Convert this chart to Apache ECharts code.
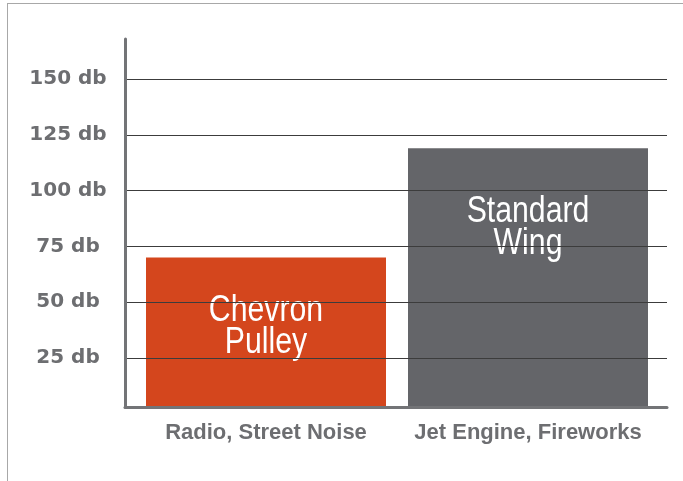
<!DOCTYPE html>
<html>
<head>
<meta charset="utf-8">
<script src="https://cdn.jsdelivr.net/npm/echarts@6/dist/echarts.min.js"></script>
<style>
  html, body { margin: 0; padding: 0; background: #ffffff; }
  #wrap { position: relative; width: 683px; height: 481px; overflow: hidden; }
  #frame { position: absolute; left: 7px; top: 3px; width: 700px; height: 500px;
           border-left: 1.5px solid #a8a8a8; border-top: 1.5px solid #a8a8a8; }
  #main { position: absolute; left: 0; top: 0; width: 683px; height: 481px; }
</style>
</head>
<body>
<div id="wrap">
  <div id="frame"></div>
  <div id="main"></div>
</div>
<script>
// ---- data ----
var categories = ['Radio, Street Noise', 'Jet Engine, Fireworks'];
var values = [70, 119];
var barLabels = ['Chevron\nPulley', 'Standard\nWing'];
var barColors = ['#d4461d', '#646569'];
var yTicks = [25, 50, 75, 100, 125, 150];
var unit = 'db';

// ---- chart ----
var chart = echarts.init(document.getElementById('main'), null, { renderer: 'canvas' });
var axisGray = '#737477';
var textGray = '#6d6e71';
var labelOffsets = [38, 48];

var option = {
  animation: false,
  backgroundColor: 'transparent',
  grid: [
    { left: 125, right: 16, top: 39, bottom: 74 },
    { left: 135, right: 24, top: 39, bottom: 74 }
  ],
  xAxis: [
    {
      gridIndex: 0, type: 'category', data: categories, z: 5,
      axisLine: { show: true, lineStyle: { color: axisGray, width: 3 } },
      axisTick: { show: false }, axisLabel: { show: false }, splitLine: { show: false }
    },
    {
      gridIndex: 1, type: 'category', data: categories,
      axisLine: { show: false }, axisTick: { show: false }, splitLine: { show: false },
      axisLabel: {
        interval: 0,
        color: textGray, fontFamily: 'Liberation Sans, Arial, sans-serif',
        fontWeight: 'bold', fontSize: 22, margin: 15
      }
    }
  ],
  yAxis: [
    {
      gridIndex: 0, type: 'value', min: 3, max: 168, z: 5,
      axisLine: { show: true, lineStyle: { color: axisGray, width: 3 } },
      axisTick: { show: false }, splitLine: { show: false },
      axisLabel: {
        customValues: yTicks,
        formatter: function (v) { return v + ' ' + unit; },
        color: textGray, fontFamily: 'DejaVu Sans, sans-serif', fontWeight: 'bold',
        fontSize: 20, align: 'center', margin: 57, padding: [0, 0, 8, 0]
      }
    },
    {
      gridIndex: 1, type: 'value', min: 3, max: 168, show: false,
      splitLine: { show: false }
    }
  ],
  series: [
    {
      type: 'line', xAxisIndex: 0, yAxisIndex: 0, data: [], z: 1, silent: true,
      markLine: {
        silent: true, symbol: ['none', 'none'], animation: false,
        label: { show: false },
        lineStyle: { color: '#3c3c3c', width: 1, type: 'solid' },
        emphasis: { disabled: true },
        data: yTicks.map(function (t) { return { yAxis: t }; })
      }
    },
    {
      type: 'bar', xAxisIndex: 1, yAxisIndex: 1, z: 2, barWidth: 240,
      data: values.map(function (v, i) {
        return { value: v, itemStyle: { color: barColors[i] } };
      })
    },
    {
      type: 'custom', xAxisIndex: 1, yAxisIndex: 1, z: 3, silent: true,
      data: values.map(function (v, i) { return [i, v]; }),
      renderItem: function (params, api) {
        var i = api.value(0);
        var pt = api.coord([i, api.value(1)]);
        return {
          type: 'text',
          x: pt[0], y: pt[1] + labelOffsets[i],
          scaleX: 0.84,
          style: {
            text: barLabels[i], fill: '#ffffff',
            font: '36px "Liberation Sans", Arial, sans-serif',
            align: 'center', verticalAlign: 'top', lineHeight: 32
          }
        };
      }
    }
  ]
};
chart.setOption(option);
</script>
</body>
</html>
